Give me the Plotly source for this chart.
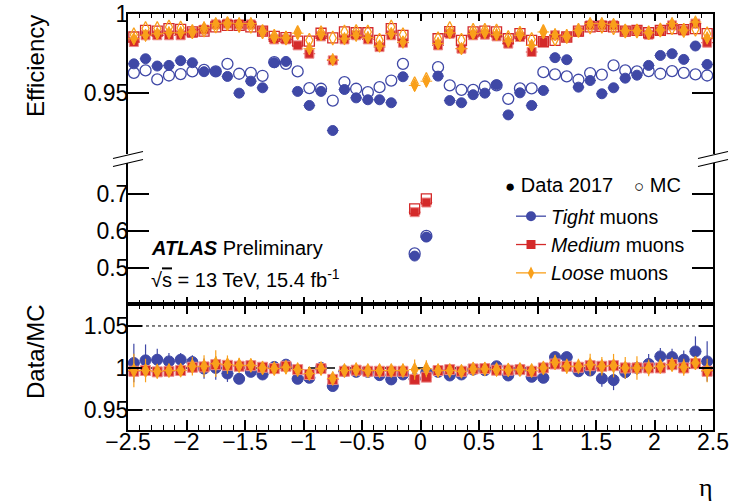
import plotly.graph_objects as go

# ---------------- data ----------------
ETA = [-2.45, -2.35, -2.25, -2.15, -2.05, -1.95, -1.85, -1.75, -1.65, -1.55,
       -1.45, -1.35, -1.25, -1.15, -1.05, -0.95, -0.85, -0.75, -0.65, -0.55,
       -0.45, -0.35, -0.25, -0.15, -0.05, 0.05, 0.15, 0.25, 0.35, 0.45,
       0.55, 0.65, 0.75, 0.85, 0.95, 1.05, 1.15, 1.25, 1.35, 1.45,
       1.55, 1.65, 1.75, 1.85, 1.95, 2.05, 2.15, 2.25, 2.35, 2.45]

TIGHT_DATA = [0.9686, 0.9718, 0.9672, 0.9676, 0.9706, 0.9693, 0.9636, 0.9638, 0.9606, 0.9500,
              0.9576, 0.9534, 0.9693, 0.9701, 0.9511, 0.9422, 0.9511, 0.9263, 0.9523, 0.9470,
              0.9458, 0.9458, 0.9439, 0.9604, 0.533, 0.584, 0.9608, 0.9453, 0.9439, 0.9490,
              0.9500, 0.9553, 0.9362, 0.9502, 0.9422, 0.9517, 0.9725, 0.9712, 0.9538, 0.9580,
              0.9496, 0.9534, 0.9595, 0.9614, 0.9676, 0.9739, 0.9750, 0.9714, 0.9799, 0.9682]
TIGHT_MC = [0.9629, 0.9644, 0.9587, 0.9612, 0.9621, 0.9638, 0.9648, 0.9638, 0.9686, 0.9623,
            0.9629, 0.9610, 0.9697, 0.9686, 0.9638, 0.9532, 0.9528, 0.9453, 0.9570, 0.9528,
            0.9506, 0.9538, 0.9580, 0.9686, 0.540, 0.587, 0.9665, 0.9549, 0.9521, 0.9521,
            0.9542, 0.9549, 0.9464, 0.9530, 0.9530, 0.9633, 0.9619, 0.9606, 0.9585, 0.9627,
            0.9617, 0.9676, 0.9644, 0.9638, 0.9640, 0.9623, 0.9640, 0.9629, 0.9619, 0.9612]
MEDIUM_DATA = [0.9824, 0.9867, 0.9867, 0.9867, 0.9867, 0.9883, 0.9903, 0.9936, 0.9941, 0.9936,
               0.9936, 0.9892, 0.9841, 0.9841, 0.9803, 0.9750, 0.9860, 0.9708, 0.9841, 0.9867,
               0.9841, 0.9792, 0.9867, 0.9820, 0.651, 0.677, 0.9803, 0.9877, 0.9782, 0.9867,
               0.9871, 0.9860, 0.9814, 0.9856, 0.9761, 0.9824, 0.9867, 0.9856, 0.9888, 0.9930,
               0.9930, 0.9930, 0.9892, 0.9898, 0.9871, 0.9894, 0.9930, 0.9898, 0.9941, 0.9820]
MEDIUM_MC = [0.9856, 0.9898, 0.9894, 0.9909, 0.9905, 0.9888, 0.9894, 0.9920, 0.9930, 0.9930,
             0.9920, 0.9894, 0.9860, 0.9852, 0.9830, 0.9830, 0.9880, 0.9850, 0.9888, 0.9883,
             0.9883, 0.9835, 0.9909, 0.9867, 0.660, 0.687, 0.9845, 0.9890, 0.9835, 0.9888,
             0.9894, 0.9888, 0.9845, 0.9877, 0.9835, 0.9826, 0.9835, 0.9856, 0.9894, 0.9920,
             0.9924, 0.9920, 0.9894, 0.9898, 0.9883, 0.9898, 0.9909, 0.9903, 0.9909, 0.9877]
LOOSE_DATA = [0.9845, 0.9867, 0.9877, 0.9883, 0.9883, 0.9888, 0.9915, 0.9941, 0.9945, 0.9941,
              0.9941, 0.9892, 0.9852, 0.9852, 0.9880, 0.9782, 0.9871, 0.9712, 0.9845, 0.9867,
              0.9852, 0.9799, 0.9877, 0.9824, 0.9549, 0.9576, 0.9814, 0.9883, 0.9782, 0.9877,
              0.9883, 0.9871, 0.9830, 0.9867, 0.9803, 0.9888, 0.9871, 0.9860, 0.9898, 0.9941,
              0.9941, 0.9936, 0.9898, 0.9898, 0.9883, 0.9900, 0.9941, 0.9900, 0.9951, 0.9850]
LOOSE_MC = [0.9870, 0.9910, 0.9910, 0.9920, 0.9913, 0.9890, 0.9900, 0.9926, 0.9940, 0.9930,
            0.9924, 0.9890, 0.9860, 0.9850, 0.9885, 0.9835, 0.9883, 0.9850, 0.9888, 0.9890,
            0.9888, 0.9835, 0.9920, 0.9870, 0.9560, 0.9587, 0.9845, 0.9910, 0.9835, 0.9898,
            0.9898, 0.9894, 0.9852, 0.9880, 0.9840, 0.9890, 0.9845, 0.9860, 0.9898, 0.9920,
            0.9924, 0.9915, 0.9894, 0.9894, 0.9883, 0.9900, 0.9915, 0.9898, 0.9905, 0.9877]

RATIO_TIGHT = [1.0059, 1.0090, 1.0098, 1.0078, 1.0098, 1.0070, 0.9992, 1.0000, 0.9933, 0.9870,
               0.9953, 0.9922, 1.0012, 1.0039, 0.9870, 0.9882, 1.0000, 0.9784, 0.9960, 0.9953,
               0.9953, 0.9914, 0.9863, 0.9922, 0.9870, 0.9950, 0.9953, 0.9910, 0.9922, 0.9980,
               0.9973, 1.0020, 0.9910, 0.9980, 0.9894, 0.9882, 1.0129, 1.0129, 0.9960, 0.9969,
               0.9875, 0.9855, 0.9949, 1.0000, 1.0047, 1.0137, 1.0129, 1.0098, 1.0196, 1.0078]
RATIO_MEDIUM = [0.9960, 0.9969, 0.9953, 0.9960, 0.9969, 1.0008, 1.0012, 1.0039, 1.0031, 1.0020,
                1.0027, 1.0008, 0.9992, 1.0020, 0.9980, 0.9922, 0.9992, 0.9863, 0.9960, 0.9973,
                0.9960, 0.9960, 0.9960, 0.9960, 0.9863, 0.9890, 0.9969, 0.9980, 0.9960, 0.9988,
                0.9992, 0.9973, 0.9973, 0.9980, 0.9960, 1.0000, 1.0047, 1.0020, 1.0008, 1.0027,
                1.0020, 1.0027, 1.0000, 1.0000, 1.0000, 1.0000, 1.0039, 1.0000, 1.0051, 0.9960]
RATIO_LOOSE = [0.9969, 0.9969, 0.9960, 0.9969, 0.9973, 1.0020, 1.0020, 1.0051, 1.0039, 1.0031,
               1.0031, 1.0000, 0.9992, 1.0008, 0.9980, 0.9933, 0.9992, 0.9875, 0.9969, 0.9980,
               0.9969, 0.9969, 0.9969, 0.9969, 0.9980, 0.9990, 0.9969, 0.9969, 0.9960, 0.9988,
               0.9988, 0.9980, 0.9976, 0.9980, 0.9969, 1.0000, 1.0066, 1.0020, 1.0020, 1.0039,
               1.0020, 1.0027, 1.0000, 1.0000, 1.0000, 1.0020, 1.0039, 1.0008, 1.0059, 0.9969]

ERR_RATIO_TIGHT = [0.023, 0.019, 0.013, 0.010, 0.008, 0.008, 0.012, 0.014, 0.010, 0.006,
                   0.005, 0.005, 0.004, 0.004, 0.004, 0.004, 0.004, 0.004, 0.003, 0.003,
                   0.003, 0.003, 0.003, 0.003, 0.003, 0.003, 0.003, 0.003, 0.003, 0.003,
                   0.003, 0.003, 0.004, 0.004, 0.004, 0.004, 0.006, 0.006, 0.004, 0.006,
                   0.010, 0.012, 0.008, 0.006, 0.012, 0.010, 0.010, 0.011, 0.018, 0.024]
ERR_RATIO_MEDIUM = [0.006, 0.005, 0.004, 0.004, 0.003, 0.003, 0.003, 0.003, 0.003, 0.003,
                    0.002, 0.002, 0.002, 0.002, 0.002, 0.002, 0.002, 0.002, 0.002, 0.002,
                    0.002, 0.002, 0.002, 0.002, 0.003, 0.003, 0.002, 0.002, 0.002, 0.002,
                    0.002, 0.002, 0.002, 0.002, 0.002, 0.002, 0.003, 0.003, 0.003, 0.003,
                    0.003, 0.003, 0.003, 0.003, 0.003, 0.003, 0.003, 0.004, 0.004, 0.005]
ERR_RATIO_LOOSE = [0.020, 0.014, 0.009, 0.007, 0.007, 0.011, 0.013, 0.016, 0.011, 0.009,
                   0.006, 0.006, 0.006, 0.004, 0.004, 0.004, 0.004, 0.004, 0.004, 0.004,
                   0.004, 0.004, 0.004, 0.004, 0.012, 0.010, 0.004, 0.004, 0.004, 0.004,
                   0.004, 0.004, 0.004, 0.004, 0.004, 0.004, 0.009, 0.009, 0.009, 0.013,
                   0.011, 0.014, 0.013, 0.014, 0.010, 0.009, 0.007, 0.010, 0.008, 0.014]

BIN_HALF_WIDTH = 0.05

EFF_UPPER_TICKS = [0.95, 1.0]
EFF_UPPER_LABELS = ["0.95", "1"]
EFF_LOWER_TICKS = [0.5, 0.6, 0.7]
EFF_LOWER_LABELS = ["0.5", "0.6", "0.7"]
RATIO_TICKS = [0.95, 1.0, 1.05]
RATIO_LABELS = ["0.95", "1", "1.05"]

SERIES = [
    # name, data, mc, ratio, ratio err, colour, symbol, size
    ("<i>Tight</i> muons", TIGHT_DATA, TIGHT_MC, RATIO_TIGHT, ERR_RATIO_TIGHT, "#3f48a6", "circle", 10),
    ("<i>Medium</i> muons", MEDIUM_DATA, MEDIUM_MC, RATIO_MEDIUM, ERR_RATIO_MEDIUM, "#d42a2a", "square", 9),
    ("<i>Loose</i> muons", LOOSE_DATA, LOOSE_MC, RATIO_LOOSE, ERR_RATIO_LOOSE, "#f9a01b", "diamond-tall", 9),
]

FONT = "Liberation Sans, Arial, Helvetica, sans-serif"
W, H = 745, 501
ML, MR, MT, MB = 128, 32, 14, 71
PW, PH = W - ML - MR, H - MT - MB


def px2paper(px, py):
    return (px - ML) / PW, (H - MB - py) / PH


fig = go.Figure()

for name, data, mc, ratio, rerr, col, sym, size in SERIES:
    line_col = "#ec8a8a" if sym == "square" else col
    for xa, ya in (("x2", "y2"), ("x3", "y3")):
        fig.add_trace(go.Scatter(
            x=ETA, y=data, mode="markers", xaxis=xa, yaxis=ya, showlegend=False,
            marker=dict(symbol=sym, size=size, color=col, line=dict(color=line_col, width=1)),
            error_x=dict(type="constant", value=BIN_HALF_WIDTH, width=0, thickness=1, color=col),
        ))
        fig.add_trace(go.Scatter(
            x=ETA, y=mc, mode="markers", xaxis=xa, yaxis=ya, showlegend=False,
            marker=dict(symbol=sym + "-open", size=size + 1, color=col, line=dict(color=col, width=1.3)),
        ))
    fig.add_trace(go.Scatter(
        x=ETA, y=ratio, mode="markers", xaxis="x", yaxis="y", showlegend=False,
        marker=dict(symbol=sym, size=size + 1, color=col, line=dict(color=line_col, width=1)),
        error_x=dict(type="constant", value=BIN_HALF_WIDTH, width=0, thickness=1, color=col),
        error_y=dict(type="data", array=rerr, width=0, thickness=1.2, color=col),
    ))

# legend-only entries
for name, data, mc, ratio, rerr, col, sym, size in SERIES:
    fig.add_trace(go.Scatter(
        x=[None], y=[None], mode="lines+markers", name=name, xaxis="x3", yaxis="y3",
        line=dict(color=col, width=1.3),
        marker=dict(symbol=sym, size=size, color=col),
    ))

axis_common = dict(showline=True, linecolor="black", linewidth=2, ticks="inside",
                   tickcolor="black", tickwidth=1.5, showgrid=False, zeroline=False,
                   automargin=False,
                   tickfont=dict(family=FONT, size=23, color="black"))

y_lo_bot = px2paper(0, 304)[1]
y_lo_top = px2paper(0, 163)[1]
y_up_bot = px2paper(0, 154)[1]

fig.update_layout(
    template="none",
    width=W, height=H, margin=dict(l=ML, r=MR, t=MT, b=MB, autoexpand=False),
    paper_bgcolor="white", plot_bgcolor="white",
    font=dict(family=FONT, color="black"),
    xaxis=dict(domain=[0, 1], anchor="y", range=[-2.5, 2.5], tickmode="linear", tick0=-2.5, dtick=0.5,
               ticklen=10, mirror="ticks", ticklabelstandoff=-10,
               minor=dict(ticks="inside", dtick=0.1, tick0=-2.5, ticklen=5, tickwidth=1.2, tickcolor="black"),
               **axis_common),
    xaxis2=dict(domain=[0, 1], anchor="y2", matches="x", range=[-2.5, 2.5], tickmode="linear", tick0=-2.5,
                dtick=0.5, ticklen=7, showticklabels=False, side="bottom",
                minor=dict(ticks="inside", dtick=0.1, tick0=-2.5, ticklen=4, tickwidth=1.2, tickcolor="black"),
                **axis_common),
    xaxis3=dict(domain=[0, 1], anchor="y3", matches="x", range=[-2.5, 2.5], tickmode="linear", tick0=-2.5,
                dtick=0.5, ticklen=7, showticklabels=False, side="top",
                minor=dict(ticks="inside", dtick=0.1, tick0=-2.5, ticklen=4, tickwidth=1.2, tickcolor="black"),
                **axis_common),
    yaxis=dict(domain=[0, y_lo_bot], anchor="x", range=[0.926, 1.0762], tickmode="array",
               tickvals=RATIO_TICKS, ticktext=RATIO_LABELS, ticklen=14, mirror="ticks",
               ticklabelstandoff=-7, **axis_common),
    yaxis2=dict(domain=[y_lo_bot, y_lo_top], anchor="x2", range=[0.404, 0.7833], tickmode="array",
                tickvals=EFF_LOWER_TICKS, ticktext=EFF_LOWER_LABELS, ticklen=21, mirror="ticks",
                ticklabelstandoff=-7, **axis_common),
    yaxis3=dict(domain=[y_up_bot, 1], anchor="x3", range=[0.9114, 1.0002], tickmode="array",
                tickvals=EFF_UPPER_TICKS, ticktext=EFF_UPPER_LABELS, ticklen=21, mirror="ticks",
                ticklabelstandoff=-7, **axis_common),
    showlegend=True,
    legend=dict(x=px2paper(511, 0)[0], y=px2paper(0, 197)[1], xanchor="left", yanchor="top",
                bgcolor="rgba(0,0,0,0)", borderwidth=0, tracegroupgap=0,
                font=dict(family=FONT, size=19.5, color="black"), itemwidth=30),
)

# reference lines in ratio panel
fig.add_shape(type="line", xref="x", yref="y", x0=-2.5, x1=2.5, y0=1.0, y1=1.0,
              line=dict(color="black", width=1.5, dash="dash"), layer="below")
for v in (0.95, 1.05):
    fig.add_shape(type="line", xref="x", yref="y", x0=-2.5, x1=2.5, y0=v, y1=v,
                  line=dict(color="black", width=1, dash="dot"), layer="below")

# axis-break marks
for cx in (ML, ML + PW):
    for cy in (155, 163):
        x0, y0 = px2paper(cx - 15, cy + 3.5)
        x1, y1 = px2paper(cx + 15, cy - 3.5)
        fig.add_shape(type="line", xref="paper", yref="paper", x0=x0, y0=y0, x1=x1, y1=y1,
                      line=dict(color="black", width=1.2))

ann = []
x, y = px2paper(35, 66)
ann.append(dict(text="Efficiency", x=x, y=y, textangle=-90, font=dict(size=24)))
x, y = px2paper(35, 352)
ann.append(dict(text="Data/MC", x=x, y=y, textangle=-90, font=dict(size=24)))
x, y = px2paper(706, 487)
ann.append(dict(text="η", x=x, y=y, font=dict(size=26, family="Liberation Serif, Times New Roman, serif")))
x, y = px2paper(149, 248)
ann.append(dict(text="<b><i>ATLAS</i></b> Preliminary", x=x, y=y, xanchor="left", font=dict(size=20)))
x, y = px2paper(149, 278)
ann.append(dict(text="√<span style='text-decoration:overline'>s</span> = 13 TeV, 15.4 fb<sup>-1</sup>",
                x=x, y=y, xanchor="left", font=dict(size=20)))
x, y = px2paper(503, 185)
ann.append(dict(text="<span style='font-size:17px'>●</span> Data 2017", x=x, y=y, xanchor="left", font=dict(size=20)))
x, y = px2paper(632, 185)
ann.append(dict(text="<span style='font-size:17px'>○</span> MC", x=x, y=y, xanchor="left", font=dict(size=20)))

for a in ann:
    a.update(xref="paper", yref="paper", showarrow=False, yanchor=a.get("yanchor", "middle"))
    a.setdefault("xanchor", "center")
    a["font"].setdefault("family", FONT)
    a["font"].setdefault("color", "black")
fig.update_layout(annotations=ann)

fig.write_html("out.html", config={"displayModeBar": False},
               post_script="document.body.style.margin='0';document.body.style.overflow='hidden';")
